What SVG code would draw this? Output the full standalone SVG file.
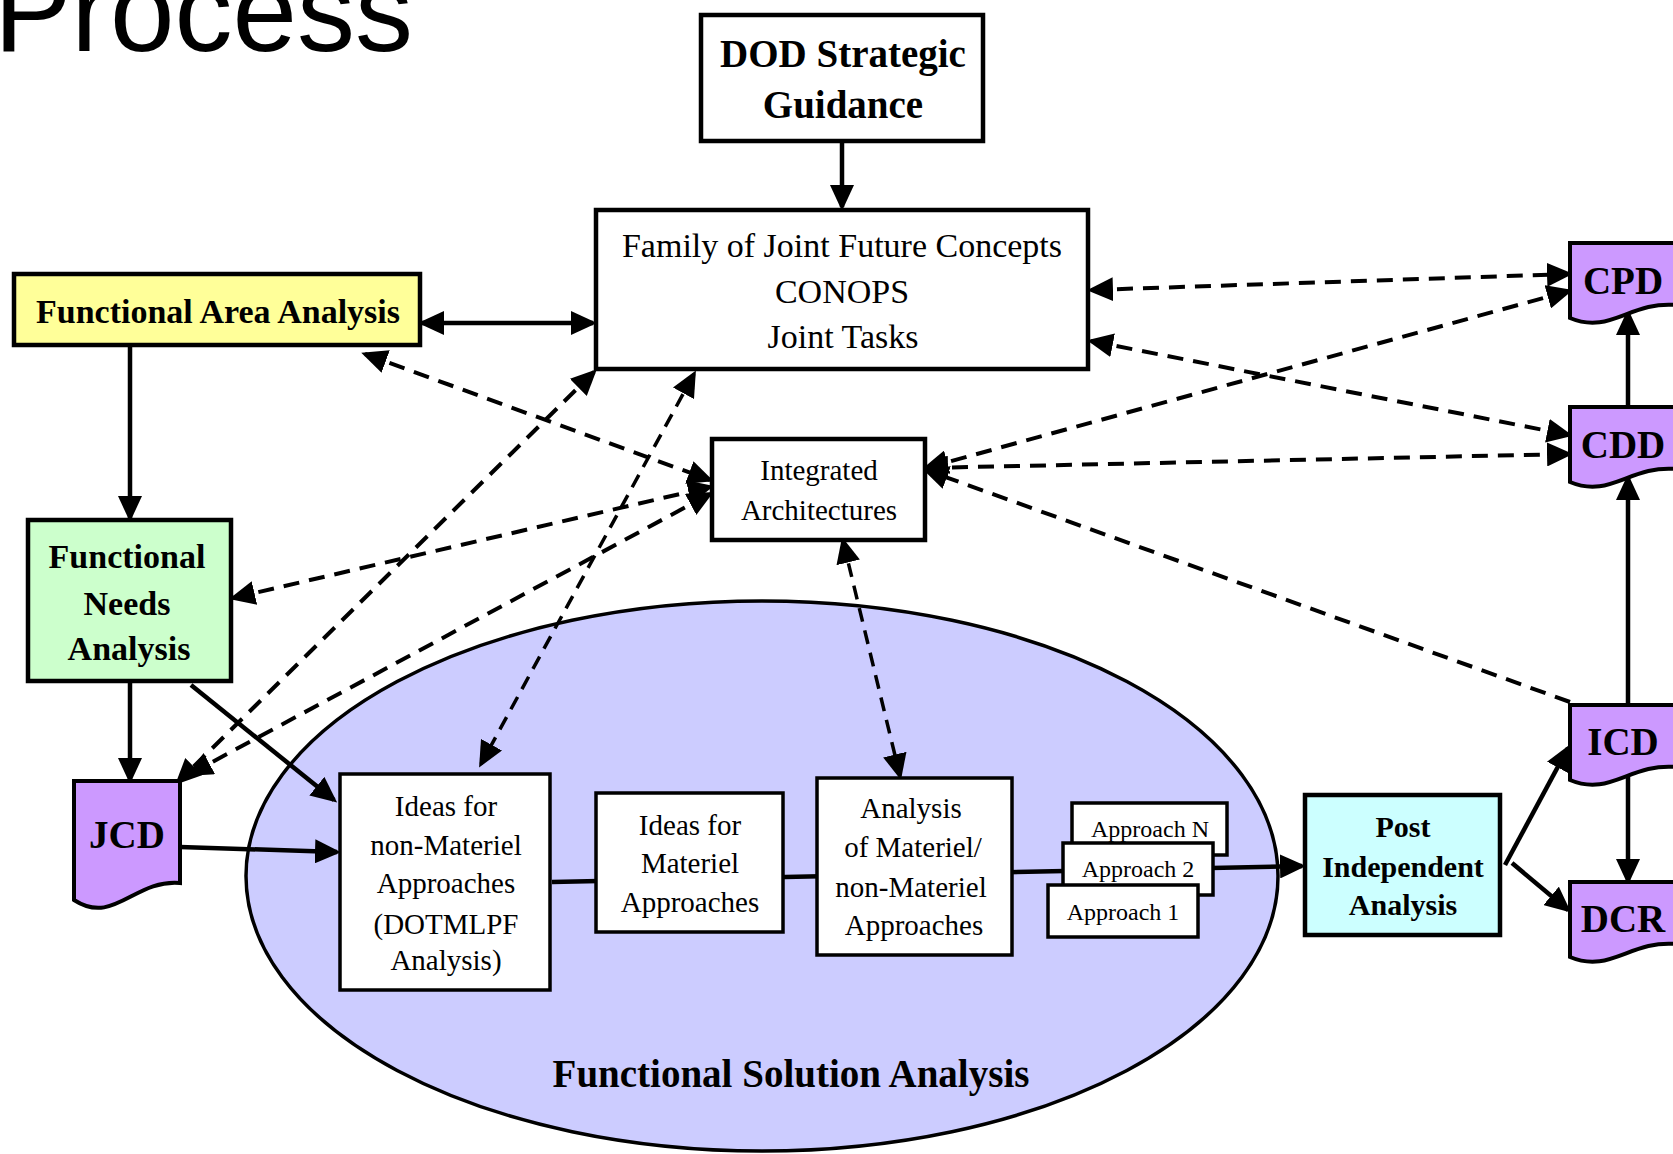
<svg xmlns="http://www.w3.org/2000/svg" width="1673" height="1154" viewBox="0 0 1673 1154">
<defs>
<style>
.box{stroke:#000;stroke-width:4.5;fill:#fff}
.thin{stroke-width:3.5}
.t{font-family:"Liberation Serif","Times New Roman",serif;text-anchor:middle;fill:#000}
.b{font-weight:bold}
.solid{fill:none;stroke:#000;stroke-width:4.5}
.dash{fill:none;stroke:#000;stroke-width:4;stroke-dasharray:16 10}
.dash2{fill:none;stroke:#000;stroke-width:3.5;stroke-dasharray:14 9}
.doc{fill:#CC99FF;stroke:#000;stroke-width:4}
</style>
<marker id="ah" markerUnits="userSpaceOnUse" markerWidth="26" markerHeight="24" refX="22" refY="12" orient="auto-start-reverse" viewBox="0 0 26 24"><path d="M0,0 L26,12 L0,24 z" fill="#000"/></marker>
</defs>
<rect x="0" y="0" width="1673" height="1154" fill="#fff"/>
<text x="-6" y="51" font-family="'Liberation Sans',Arial,sans-serif" font-size="116">Process</text>

<g id="functional-solution-analysis">
<ellipse cx="762" cy="876" rx="516" ry="275" fill="#CCCCFF" stroke="#000" stroke-width="3.5"/>
<text class="t b" x="791" y="1087" font-size="39">Functional Solution Analysis</text>
</g>

<g id="connectors">
<path class="solid" d="M842,143 L842,207" marker-end="url(#ah)"/>
<path class="solid" d="M422,323 L593,323" marker-start="url(#ah)" marker-end="url(#ah)"/>
<path class="solid" d="M130,347 L130,518" marker-end="url(#ah)"/>
<path class="solid" d="M130,683 L130,780" marker-end="url(#ah)"/>
<path class="solid" d="M191,685 L334,800" marker-end="url(#ah)"/>
<path class="solid" d="M180,847 L337,852" marker-end="url(#ah)"/>
<path class="solid" d="M552,882 L1302,866" marker-end="url(#ah)"/>
<path class="solid" d="M1505,865 L1568,748" marker-end="url(#ah)"/>
<path class="solid" d="M1512,863 L1568,910" marker-end="url(#ah)"/>
<path class="solid" d="M1628,705 L1628,478" marker-end="url(#ah)"/>
<path class="solid" d="M1628,407 L1628,313" marker-end="url(#ah)"/>
<path class="solid" d="M1628,777 L1628,881" marker-end="url(#ah)"/>

<path class="dash" d="M365,354 L710,480" marker-start="url(#ah)" marker-end="url(#ah)"/>
<path class="dash" d="M233,598 L710,487" marker-start="url(#ah)" marker-end="url(#ah)"/>
<path class="dash" d="M190,774 L710,494" marker-start="url(#ah)" marker-end="url(#ah)"/>
<path class="dash" d="M594,372 L178,782" marker-start="url(#ah)" marker-end="url(#ah)"/>
<path class="dash2" d="M694,374 L481,764" marker-start="url(#ah)" marker-end="url(#ah)"/>
<path class="dash2" d="M843,541 L900,776" marker-start="url(#ah)" marker-end="url(#ah)"/>
<path class="dash" d="M1091,290 L1569,274" marker-start="url(#ah)" marker-end="url(#ah)"/>
<path class="dash" d="M1091,341 L1569,435" marker-start="url(#ah)" marker-end="url(#ah)"/>
<path class="dash" d="M926,468 L1569,291" marker-start="url(#ah)" marker-end="url(#ah)"/>
<path class="dash" d="M926,468 L1569,454" marker-start="url(#ah)" marker-end="url(#ah)"/>
<path class="dash" d="M1570,702 L926,470" marker-end="url(#ah)"/>
</g>

<g id="dod-strategic-guidance">
<rect class="box" x="701" y="15" width="282" height="126"/>
<text class="t b" x="843" y="67" font-size="39">DOD Strategic</text>
<text class="t b" x="843" y="118" font-size="39">Guidance</text>
</g>

<g id="family-of-joint-future-concepts">
<rect class="box" x="596" y="210" width="492" height="159"/>
<text class="t" x="842" y="257" font-size="34">Family of Joint Future Concepts</text>
<text class="t" x="842" y="303" font-size="34">CONOPS</text>
<text class="t" x="843" y="348" font-size="34">Joint Tasks</text>
</g>

<g id="functional-area-analysis">
<rect class="box" x="14" y="274" width="406" height="71" fill="#FFFF99" style="fill:#FFFF99"/>
<text class="t b" x="218" y="323" font-size="34">Functional Area Analysis</text>
</g>

<g id="functional-needs-analysis">
<rect class="box" x="28" y="520" width="203" height="161" style="fill:#CCFFCC"/>
<text class="t b" x="127" y="568" font-size="34">Functional</text>
<text class="t b" x="127" y="615" font-size="34">Needs</text>
<text class="t b" x="129" y="660" font-size="34">Analysis</text>
</g>

<g id="jcd">
<path class="doc" d="M74,781 H180 V883 C134,879 114,926 74,900 Z"/>
<text class="t b" x="127" y="848" font-size="39">JCD</text>
</g>

<g id="integrated-architectures">
<rect class="box" x="712" y="439" width="213" height="101"/>
<text class="t" x="819" y="480" font-size="29">Integrated</text>
<text class="t" x="819" y="520" font-size="29">Architectures</text>
</g>

<g id="ideas-non-materiel">
<rect class="box thin" x="340" y="774" width="210" height="216"/>
<text class="t" x="446" y="816" font-size="29">Ideas for</text>
<text class="t" x="446" y="855" font-size="29">non-Materiel</text>
<text class="t" x="446" y="893" font-size="29">Approaches</text>
<text class="t" x="446" y="934" font-size="29">(DOTMLPF</text>
<text class="t" x="446" y="970" font-size="29">Analysis)</text>
</g>

<g id="ideas-materiel">
<rect class="box thin" x="596" y="793" width="187" height="139"/>
<text class="t" x="690" y="835" font-size="29">Ideas for</text>
<text class="t" x="690" y="873" font-size="29">Materiel</text>
<text class="t" x="690" y="912" font-size="29">Approaches</text>
</g>

<g id="analysis-of-approaches">
<rect class="box thin" x="817" y="778" width="195" height="177"/>
<text class="t" x="911" y="818" font-size="29">Analysis</text>
<text class="t" x="913" y="857" font-size="29">of Materiel/</text>
<text class="t" x="911" y="897" font-size="29">non-Materiel</text>
<text class="t" x="914" y="935" font-size="29">Approaches</text>
</g>

<g id="approach-n">
<rect class="box thin" x="1072" y="803" width="155" height="52"/>
<text class="t" x="1150" y="837" font-size="24">Approach N</text>
</g>
<g id="approach-2">
<rect class="box thin" x="1063" y="843" width="150" height="52"/>
<text class="t" x="1138" y="877" font-size="24">Approach 2</text>
</g>
<g id="approach-1">
<rect class="box thin" x="1048" y="885" width="150" height="52"/>
<text class="t" x="1123" y="920" font-size="24">Approach 1</text>
</g>

<g id="post-independent-analysis">
<rect class="box" x="1305" y="795" width="195" height="140" style="fill:#CCFFFF"/>
<text class="t b" x="1403" y="837" font-size="30">Post</text>
<text class="t b" x="1403" y="877" font-size="30">Independent</text>
<text class="t b" x="1403" y="915" font-size="30">Analysis</text>
</g>

<g id="cpd">
<path class="doc" d="M1570,243 H1676 V305 C1630,301 1610,335 1570,318 Z"/>
<text class="t b" x="1623" y="294" font-size="39">CPD</text>
</g>
<g id="cdd">
<path class="doc" d="M1570,407 H1676 V469 C1630,465 1610,499 1570,482 Z"/>
<text class="t b" x="1623" y="458" font-size="39">CDD</text>
</g>
<g id="icd">
<path class="doc" d="M1570,705 H1676 V767 C1630,763 1610,797 1570,780 Z"/>
<text class="t b" x="1623" y="755" font-size="39">ICD</text>
</g>
<g id="dcr">
<path class="doc" d="M1570,882 H1676 V944 C1630,940 1610,974 1570,957 Z"/>
<text class="t b" x="1623" y="932" font-size="39">DCR</text>
</g>
</svg>
